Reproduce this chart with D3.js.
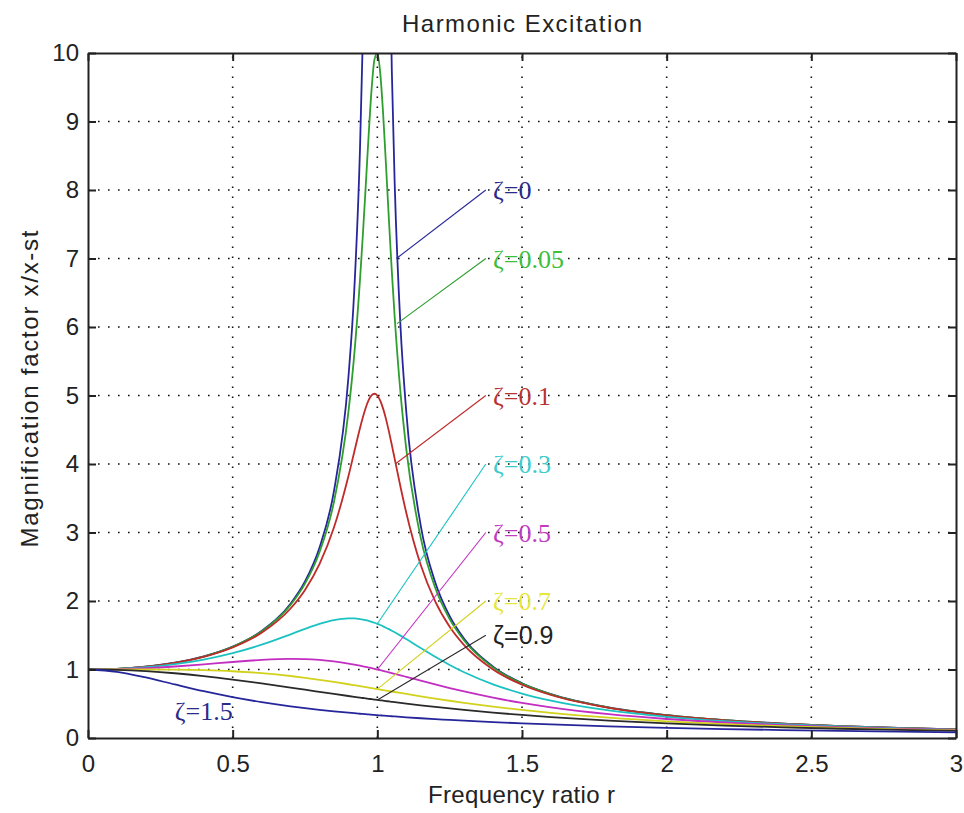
<!DOCTYPE html>
<html><head><meta charset="utf-8">
<script src="https://cdn.jsdelivr.net/npm/d3@7/dist/d3.min.js"></script>
<style>body{margin:0;background:#fff}svg{display:block}</style>
</head><body><svg id="chart" width="964" height="813"></svg>
<script>
// ---- data ----
const ratios = [0,0.1,0.2,0.3,0.4,0.5,0.6,0.7,0.75,0.8,0.85,0.9,0.92,0.94,0.95,0.96,0.97,0.98,0.99,1.0,1.01,1.02,1.03,1.04,1.05,1.06,1.08,1.1,1.15,1.2,1.25,1.3,1.4,1.5,1.6,1.8,2.0,2.2,2.4,2.6,2.8,3.0];
const mZeta0   = [1,1.0101,1.0417,1.0989,1.1905,1.3333,1.5625,1.9608,2.2857,2.7778,3.6036,5.2632,6.5104,8.5911,10.256,12.755,16.92,25.25,50.25,null,49.75,24.75,16.42,12.255,9.756,8.091,6.010,4.762,3.101,2.273,1.778,1.449,1.0417,0.8,0.641,0.4464,0.3333,0.2604,0.2101,0.1736,0.1462,0.125];
const mZeta005 = [1,1.0100,1.0414,1.0983,1.1891,1.3304,1.5557,1.9426,2.2528,2.7116,3.4455,4.7565,5.5854,6.6837,7.3460,8.0679,8.8037,9.4610,9.9030,10,9.7106,9.1150,8.3571,7.5648,6.8151,6.1415,5.0409,4.2183,2.9206,2.1926,1.7354,1.4242,1.0308,0.7943,0.6377,0.4450,0.3326,0.2600,0.2098,0.1734,0.1461,0.1249];
const mZeta01  = [1,1.0099,1.0408,1.0965,1.1851,1.3216,1.5357,1.8908,2.1622,2.5384,3.0728,3.8208,4.1722,4.5225,4.6826,4.8218,4.9309,5.0010,5.0252,5.0,4.9262,4.8086,4.6552,4.4756,4.2794,4.0750,3.6675,3.2880,2.5245,1.9952,1.6246,1.3562,1.0,0.7779,0.6279,0.4408,0.3304,0.2587,0.2090,0.1729,0.1457,0.1247];
const mZeta03  = [1,1.0082,1.0336,1.0780,1.1447,1.2380,1.3618,1.5136,1.5933,1.6667,1.7223,1.7469,1.7453,1.7365,1.7293,1.7203,1.7094,1.6968,1.6826,1.6667,1.6493,1.6304,1.6103,1.5890,1.5667,1.5435,1.4947,1.4438,1.3129,1.1851,1.0667,0.9603,0.7839,0.6492,0.5459,0.4021,0.3095,0.2463,0.2011,0.1676,0.1420,0.1220];
const mZeta05  = [1,1.0050,1.0198,1.0437,1.0748,1.1094,1.1399,1.1546,1.1517,1.1399,1.1184,1.0871,1.0721,1.0558,1.0471,1.0382,1.0290,1.0196,1.0099,1.0,0.9899,0.9796,0.9692,0.9586,0.9479,0.9370,0.9151,0.8930,0.8373,0.7824,0.7295,0.6795,0.5891,0.5121,0.4475,0.3480,0.2774,0.2260,0.1876,0.1582,0.1353,0.1170];
const mZeta07  = [1,1.0002,1.0,0.9978,0.9905,0.9747,0.9469,0.9052,0.8791,0.8500,0.8184,0.7848,0.7709,0.7569,0.7499,0.7428,0.7357,0.7286,0.7214,0.7143,0.7071,0.7000,0.6929,0.6857,0.6786,0.6715,0.6574,0.6434,0.6090,0.5758,0.5440,0.5138,0.4582,0.4092,0.3663,0.2966,0.2437,0.2031,0.1716,0.1468,0.1268,0.1107];
const mZeta09  = [1,0.9938,0.9753,0.9450,0.9039,0.8536,0.7966,0.7357,0.7047,0.6737,0.6431,0.6131,0.6013,0.5896,0.5838,0.5781,0.5724,0.5668,0.5611,0.5556,0.5500,0.5445,0.5391,0.5337,0.5283,0.5230,0.5125,0.5022,0.4773,0.4536,0.4312,0.4099,0.3708,0.3361,0.3053,0.2539,0.2134,0.1813,0.1556,0.1347,0.1177,0.1036];
const mZeta15  = [1,0.9667,0.8833,0.7813,0.6827,0.5963,0.5235,0.4627,0.4363,0.4121,0.3899,0.3695,0.3618,0.3543,0.3507,0.3471,0.3436,0.3401,0.3367,0.3333,0.3300,0.3268,0.3236,0.3204,0.3173,0.3142,0.3082,0.3024,0.2886,0.2757,0.2637,0.2525,0.2321,0.2141,0.1981,0.1711,0.1491,0.1310,0.1159,0.1031,0.0923,0.0830];

const seriesLabels = ["ζ=0","ζ=0.05","ζ=0.1","ζ=0.3","ζ=0.5","ζ=0.7","ζ=0.9","ζ=1.5"];
// leader lines: from a point on the curve to the label (data units)
const leaderFrom = [[1.066,7.0],[1.068,6.05],[1.062,4.0],[1.0,1.667],[1.0,1.0],[1.0,0.714],[1.0,0.556],null];
const leaderTo   = [[1.375,8.0],[1.375,7.0],[1.375,5.0],[1.375,4.0],[1.375,3.0],[1.375,2.0],[1.375,1.5],null];
const labelAt    = [[1.4,8],[1.4,7],[1.4,5],[1.4,4],[1.4,3],[1.4,2],[1.4,1.5],[0.3,0.4]];

const xTickValues = [0,0.5,1,1.5,2,2.5,3];
const yTickValues = [0,1,2,3,4,5,6,7,8,9,10];
const titleText = "Harmonic Excitation";
const xLabelText = "Frequency ratio r";
const yLabelText = "Magnification factor x/x-st";

(function(){
// ---- styles ----
const lineColors  = ["#26269a","#2e9e2e","#c02a2a","#1cc2c2","#c22ec2","#d2d21e","#2a2a2a","#26269a"];
const labelColors = ["#2a2a8a","#3cc03c","#b83232","#3ccccc","#c23cc2","#e6e63c","#222222","#2a2a8a"];
const labelFonts  = ["Liberation Serif","Liberation Serif","Liberation Serif","Liberation Serif","Liberation Serif","Liberation Serif","Liberation Sans","Liberation Serif"];

const allSeries = [mZeta0,mZeta005,mZeta01,mZeta03,mZeta05,mZeta07,mZeta09,mZeta15];

const W = 964, H = 813;
const m = {left:88, right:956, top:53, bottom:738};
const svg = d3.select("#chart");
svg.append("rect").attr("width",W).attr("height",H).attr("fill","#fff");

const x = d3.scaleLinear().domain([0,3]).range([m.left,m.right]);
const y = d3.scaleLinear().domain([0,10]).range([m.bottom,m.top]);

svg.append("defs").append("clipPath").attr("id","plotclip")
  .append("rect").attr("x",m.left).attr("y",m.top).attr("width",m.right-m.left).attr("height",m.bottom-m.top);

// grid
const grid = svg.append("g").attr("stroke","#111").attr("stroke-width",1.6).attr("stroke-dasharray","1.6,8.4");
grid.selectAll(".gx").data(xTickValues.slice(1,-1)).join("line").attr("class","gx")
  .attr("x1",d=>x(d)).attr("x2",d=>x(d)).attr("y1",m.bottom).attr("y2",m.top);
grid.selectAll(".gy").data(yTickValues.slice(1,-1)).join("line").attr("class","gy")
  .attr("y1",d=>y(d)).attr("y2",d=>y(d)).attr("x1",m.left).attr("x2",m.right);

// curves
const line = d3.line()
  .defined(d=>d[1]!=null)
  .x(d=>x(d[0])).y(d=>y(d[1]))
  .curve(d3.curveMonotoneX);
const curves = svg.append("g").attr("clip-path","url(#plotclip)");
allSeries.forEach((vals,i)=>{
  const pts = ratios.map((r,k)=>[r,vals[k]]);
  curves.append("path").attr("d",line(pts)).attr("fill","none")
    .attr("stroke",lineColors[i]).attr("stroke-width",1.8).attr("stroke-linejoin","round");
});

// leader lines & labels
seriesLabels.forEach((lab,i)=>{
  if(leaderFrom[i]){
    svg.append("line")
      .attr("x1",x(leaderFrom[i][0])).attr("y1",y(leaderFrom[i][1]))
      .attr("x2",x(leaderTo[i][0])).attr("y2",y(leaderTo[i][1]))
      .attr("stroke",lineColors[i]).attr("stroke-width",1.1);
  }
  svg.append("text").attr("x",x(labelAt[i][0])).attr("y",y(labelAt[i][1]))
    .attr("dy","0.35em")
    .attr("font-family",labelFonts[i])
    .attr("font-size", labelFonts[i]==="Liberation Sans"?25:26)
    .attr("fill",labelColors[i]).text(lab);
});

// axes
const fontSans = "Liberation Sans, Arial, sans-serif";
const ax = svg.append("g").attr("font-family",fontSans);
const gBottom = ax.append("g").attr("transform",`translate(0,${m.bottom})`)
  .call(d3.axisBottom(x).tickValues(xTickValues).tickFormat(d3.format("~g")).tickSizeInner(-8).tickSizeOuter(0).tickPadding(17));
const gLeft = ax.append("g").attr("transform",`translate(${m.left},0)`)
  .call(d3.axisLeft(y).tickValues(yTickValues).tickFormat(d3.format("~g")).tickSizeInner(-8).tickSizeOuter(0).tickPadding(9));
const gTop = ax.append("g").attr("transform",`translate(0,${m.top})`)
  .call(d3.axisTop(x).tickValues(xTickValues).tickFormat("").tickSizeInner(-8).tickSizeOuter(0));
const gRight = ax.append("g").attr("transform",`translate(${m.right},0)`)
  .call(d3.axisRight(y).tickValues(yTickValues).tickFormat("").tickSizeInner(-8).tickSizeOuter(0));
[gBottom,gLeft,gTop,gRight].forEach(g=>{
  g.select(".domain").attr("stroke","#222").attr("stroke-width",2);
  g.selectAll(".tick line").attr("stroke","#222").attr("stroke-width",2);
  g.selectAll(".tick text").attr("font-size",24).attr("fill","#222").attr("font-family",fontSans);
});

// titles
svg.append("text").attr("x",(m.left+m.right)/2).attr("y",32).attr("text-anchor","middle")
  .attr("font-family",fontSans).attr("font-size",24).attr("fill","#222")
  .attr("textLength",240).attr("lengthAdjust","spacing").text(titleText);
svg.append("text").attr("x",521.5).attr("y",803).attr("text-anchor","middle")
  .attr("font-family",fontSans).attr("font-size",24).attr("fill","#222")
  .attr("textLength",187).attr("lengthAdjust","spacing").text(xLabelText);
svg.append("text").attr("transform","translate(38,389) rotate(-90)").attr("text-anchor","middle")
  .attr("font-family",fontSans).attr("font-size",24).attr("fill","#222")
  .attr("textLength",317).attr("lengthAdjust","spacing").text(yLabelText);
})();
</script></body></html>
